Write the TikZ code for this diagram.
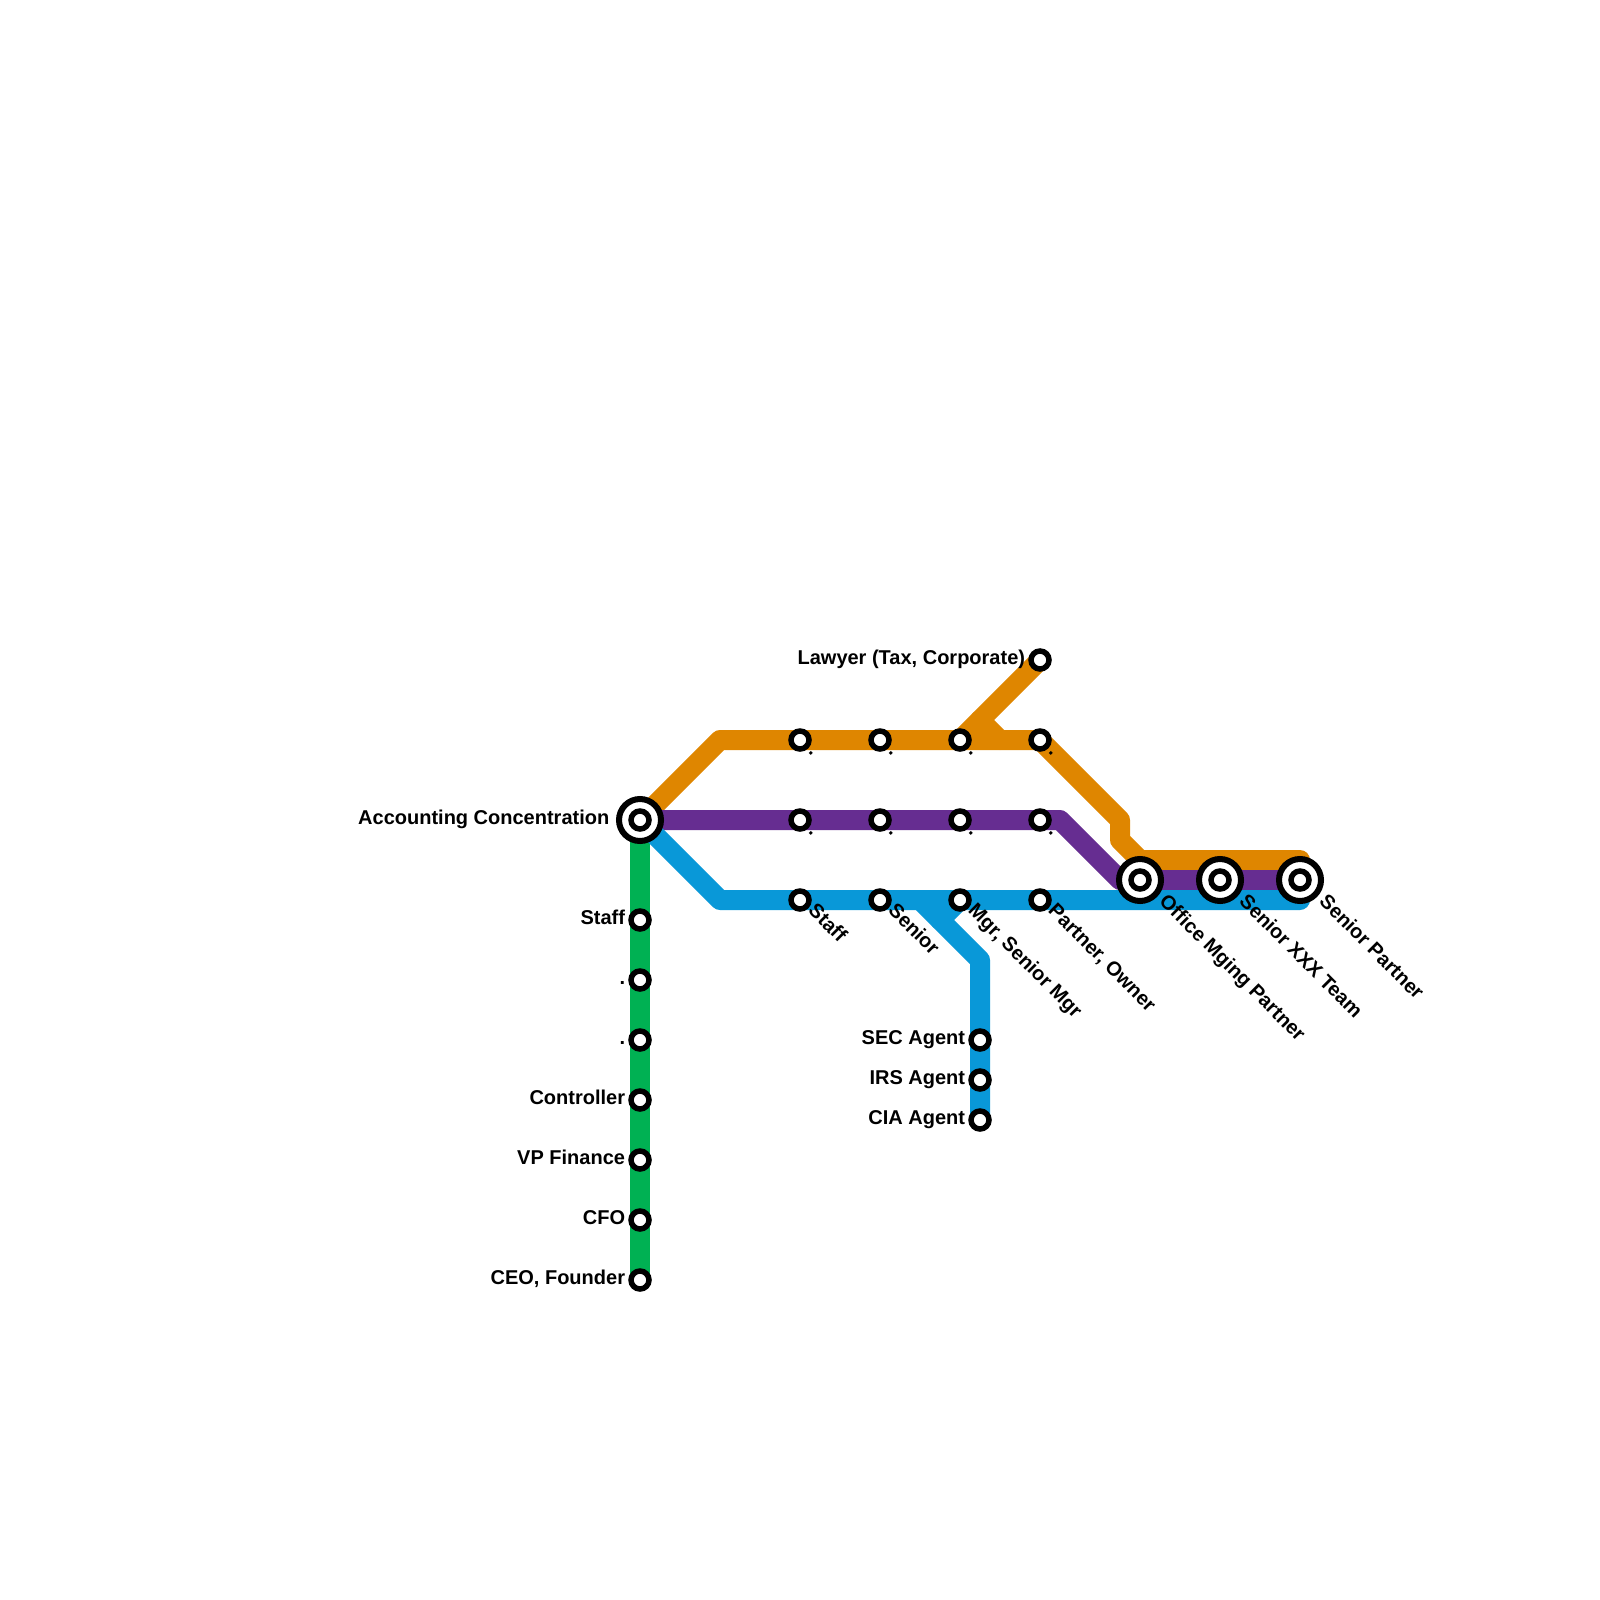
\documentclass[tikz,border=0pt]{standalone}
\usepackage{fontspec}
\setmainfont{Liberation Sans}
\usetikzlibrary{positioning, calc, backgrounds}
\definecolor{lineorange}{RGB}{223,134,0}
\definecolor{linepurple}{RGB}{102,45,145}
\definecolor{lineblue}{RGB}{9,152,216}
\definecolor{linegreen}{RGB}{0,177,83}

\begin{document}
\begin{tikzpicture}[x=1pt, y=-1pt, node distance=3pt,
      font=\fontsize{20}{24}\selectfont\bfseries,
      route/.style={line width=20pt, line cap=round, line join=round},
      stopnode/.style={circle, draw=black, fill=white, line width=5.5pt,
                       minimum size=18pt, inner sep=0pt},
      hubnode/.style={circle, draw=black, fill=white, line width=6pt,
                      minimum size=42pt, inner sep=0pt},
      side/.style={inner sep=0pt, text height=1.5ex, text depth=.25ex, yshift=-1pt},
      turned/.style={inner sep=0pt, anchor=west, rotate=-45, text height=1.5ex, text depth=.25ex}]
    \useasboundingbox (0,0) rectangle (1600,1600);

    % bends of the lines
    \coordinate (ob1) at (720,740);
    \coordinate (ob2) at (1120,820);
    \coordinate (ob3) at (1120,840);
    \coordinate (ob4) at (1140,860);
    \coordinate (ob5) at (1300,860);
    \coordinate (oj1) at (980,720);
    \coordinate (oj2) at (1000,740);
    \coordinate (pb1) at (1060,820);
    \coordinate (pb2) at (1120,880);
    \coordinate (bb1) at (720,900);
    \coordinate (bb3) at (1300,900);
    \coordinate (bj1) at (920,900);
    \coordinate (bj2) at (940,920);
    \coordinate (bj3) at (960,900);
    \coordinate (bb2) at (980,960);

    % stations
    \node[hubnode]  (acc)   at (640,820)  {};
    \node[stopnode] (accin) at (acc)      {};
    \node[hubnode]  (omp)   at (1140,880) {};
    \node[stopnode] (ompin) at (omp)      {};
    \node[hubnode]  (sxt)   at (1220,880) {};
    \node[stopnode] (sxtin) at (sxt)      {};
    \node[hubnode]  (spt)   at (1300,880) {};
    \node[stopnode] (sptin) at (spt)      {};

    \node[stopnode] (law) at (1040,660) {};
    \node[stopnode] (oa)  at (800,740)  {};
    \node[stopnode] (ob)  at (880,740)  {};
    \node[stopnode] (oc)  at (960,740)  {};
    \node[stopnode] (od)  at (1040,740) {};
    \node[stopnode] (pa)  at (800,820)  {};
    \node[stopnode] (pb)  at (880,820)  {};
    \node[stopnode] (pc)  at (960,820)  {};
    \node[stopnode] (pd)  at (1040,820) {};
    \node[stopnode] (ba)  at (800,900)  {};
    \node[stopnode] (bb)  at (880,900)  {};
    \node[stopnode] (bc)  at (960,900)  {};
    \node[stopnode] (bd)  at (1040,900) {};
    \node[stopnode] (sec) at (980,1040) {};
    \node[stopnode] (irs) at (980,1080) {};
    \node[stopnode] (cia) at (980,1120) {};
    \node[stopnode] (ga)  at (640,920)  {};
    \node[stopnode] (gb)  at (640,980)  {};
    \node[stopnode] (gc)  at (640,1040) {};
    \node[stopnode] (gd)  at (640,1100) {};
    \node[stopnode] (ge)  at (640,1160) {};
    \node[stopnode] (gf)  at (640,1220) {};
    \node[stopnode] (gg)  at (640,1280) {};

    % lines
    \begin{scope}[on background layer]
      \draw[route, linegreen] (acc.center) -- (gg.center);
      \draw[route, lineorange] (acc.center) -- (ob1) -- (od.center) -- (ob2) -- (ob3) -- (ob4) -- (ob5);
      \draw[route, lineorange] (oc.center) -- (law.center);
      \draw[route, lineorange] (oj1) -- (oj2);
      \draw[route, linepurple] (acc.center) -- (pb1) -- (pb2) -- (spt.center);
      \draw[route, lineblue] (acc.center) -- (bb1) -- (bb3);
      \draw[route, lineblue] (bj1) -- (bb2) -- (cia.center);
      \draw[route, lineblue] (bj2) -- (bj3);
    \end{scope}

    % labels
    \node[side, left=6.5pt of acc] (accl) {Accounting Concentration};
    \node[side, left=of law] (lawl) {Lawyer (Tax, Corporate)};
    \node[side, left=of ga] (gal) {Staff};
    \node[side, left=of gb] (gbl) {.};
    \node[side, left=of gc] (gcl) {.};
    \node[side, left=of gd] (gdl) {Controller};
    \node[side, left=of ge] (gel) {VP Finance};
    \node[side, left=of gf] (gfl) {CFO};
    \node[side, left=of gg] (ggl) {CEO, Founder};
    \node[side, left=of sec] (secl) {SEC Agent};
    \node[side, left=of irs] (irsl) {IRS Agent};
    \node[side, left=of cia] (cial) {CIA Agent};

    \node[turned] (oal) at ([shift={(10,10)}]oa.center) {.};
    \node[turned] (obl) at ([shift={(10,10)}]ob.center) {.};
    \node[turned] (ocl) at ([shift={(10,10)}]oc.center) {.};
    \node[turned] (odl) at ([shift={(10,10)}]od.center) {.};
    \node[turned] (pal) at ([shift={(10,10)}]pa.center) {.};
    \node[turned] (pbl) at ([shift={(10,10)}]pb.center) {.};
    \node[turned] (pcl) at ([shift={(10,10)}]pc.center) {.};
    \node[turned] (pdl) at ([shift={(10,10)}]pd.center) {.};
    \node[turned] (bal) at ([shift={(9.5,9.5)}]ba.center) {Staff};
    \node[turned] (bbl) at ([shift={(9.5,9.5)}]bb.center) {Senior};
    \node[turned] (bcl) at ([shift={(9.5,9.5)}]bc.center) {Mgr, Senior Mgr};
    \node[turned] (bdl) at ([shift={(9.5,9.5)}]bd.center) {Partner, Owner};
    \node[turned] (ompl) at ([shift={(20.5,20.5)}]omp.center) {Office Mging Partner};
    \node[turned] (sxtl) at ([shift={(20.5,20.5)}]sxt.center) {Senior XXX Team};
    \node[turned] (sptl) at ([shift={(20.5,20.5)}]spt.center) {Senior Partner};
  \end{tikzpicture}
\end{document}
